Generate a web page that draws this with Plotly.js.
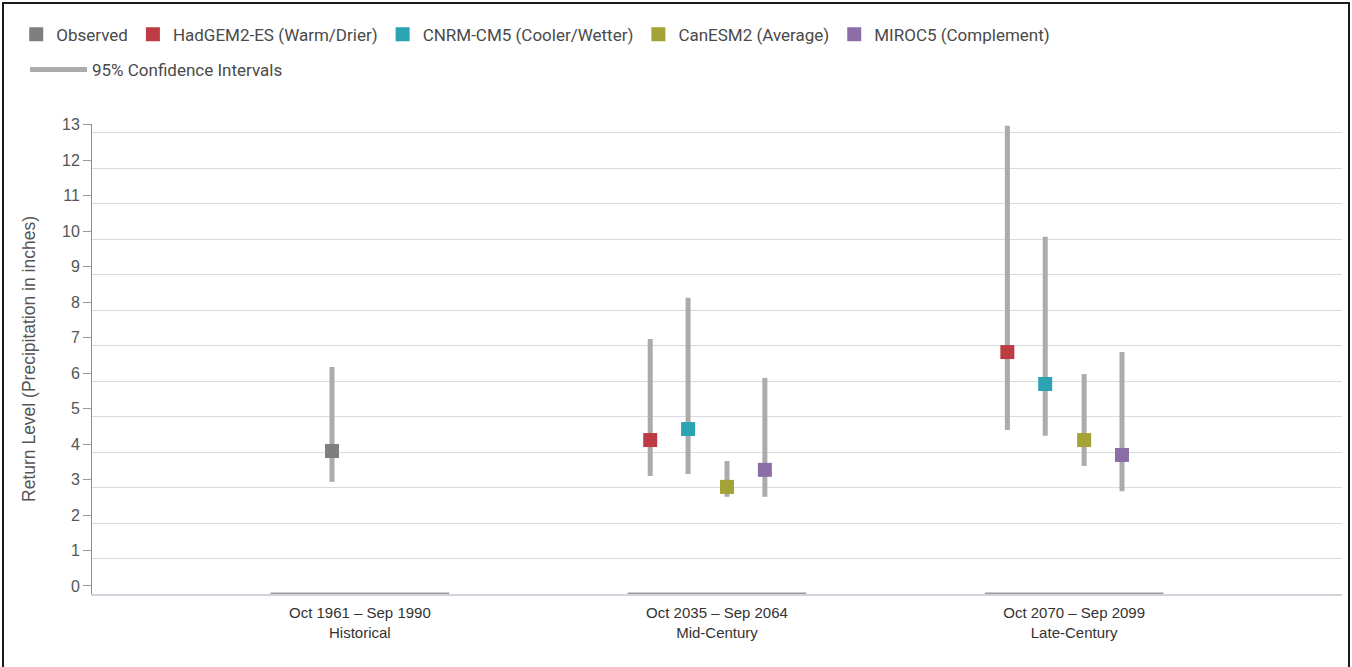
<!DOCTYPE html>
<html>
<head>
<meta charset="utf-8">
<script src="https://cdn.plot.ly/plotly-3.0.1.min.js"></script>
<style>
  html, body { margin: 0; padding: 0; background: #fff; }
  #chart { position: absolute; left: 0; top: 0; width: 1352px; height: 667px; }
  #frame { position: absolute; left: 2px; top: 2px; width: 1344px; height: 670px; border: 2px solid #1a1a1a; pointer-events: none; }
</style>
</head>
<body>
<div id="chart"></div>
<div id="frame"></div>
<script>
// ---- data ----
const periodRange = ['Oct 1961 – Sep 1990', 'Oct 2035 – Sep 2064', 'Oct 2070 – Sep 2099'];
const periodName = ['Historical', 'Mid-Century', 'Late-Century'];

const observedPeriods = [0];
const observedValue = [4.03];
const observedLow = [3.16];
const observedHigh = [6.40];

const modelPeriods = [1, 2];
const hadgemValue = [4.34, 6.82];
const hadgemLow = [3.33, 4.62];
const hadgemHigh = [7.19, 13.2];

const cnrmValue = [4.65, 5.92];
const cnrmLow = [3.38, 4.46];
const cnrmHigh = [8.35, 10.07];

const canesmValue = [3.02, 4.34];
const canesmLow = [2.74, 3.61];
const canesmHigh = [3.75, 6.20];

const mirocValue = [3.50, 3.92];
const mirocLow = [2.74, 2.90];
const mirocHigh = [6.09, 6.82];

const yTicks = [0,1,2,3,4,5,6,7,8,9,10,11,12,13];

// ---- styling ----
const series = [
  {name: 'Observed', periods: observedPeriods, v: observedValue, lo: observedLow, hi: observedHigh, color: '#7f7f7f', slot: -0.078},
  {name: 'HadGEM2-ES (Warm/Drier)', periods: modelPeriods, v: hadgemValue, lo: hadgemLow, hi: hadgemHigh, color: '#bd3b42', slot: -0.187},
  {name: 'CNRM-CM5 (Cooler/Wetter)', periods: modelPeriods, v: cnrmValue, lo: cnrmLow, hi: cnrmHigh, color: '#2aa3b2', slot: -0.081},
  {name: 'CanESM2 (Average)', periods: modelPeriods, v: canesmValue, lo: canesmLow, hi: canesmHigh, color: '#a3a337', slot: 0.028},
  {name: 'MIROC5 (Complement)', periods: modelPeriods, v: mirocValue, lo: mirocLow, hi: mirocHigh, color: '#8b6ea7', slot: 0.134}
];

// confidence interval segments
const ciX = [], ciY = [];
series.forEach(s => {
  s.periods.forEach((p, i) => {
    ciX.push(p + s.slot, p + s.slot, null);
    ciY.push(s.lo[i], s.hi[i], null);
  });
});

const traces = [{
  type: 'scatter', mode: 'lines', name: '95% Confidence Intervals',
  x: ciX, y: ciY, line: {color: '#ababab', width: 5},
  legend: 'legend2', hoverinfo: 'skip', connectgaps: false
}];
series.forEach(s => {
  traces.push({
    type: 'scatter', mode: 'markers', name: s.name,
    x: s.periods.map(p => p + s.slot), y: s.v,
    marker: {symbol: 'square', size: 14, color: s.color, line: {width: 0}},
    legend: 'legend'
  });
});

const shapes = periodRange.map((_, i) => ({
  type: 'line', xref: 'x', yref: 'y', x0: i - 0.25, x1: i + 0.25, y0: 0, y1: 0,
  line: {color: '#9a9a9a', width: 3}, layer: 'above'
}));

const layout = {
  width: 1352, height: 667,
  margin: {l: 92, r: 10, t: 124, b: 73},
  paper_bgcolor: '#ffffff', plot_bgcolor: '#ffffff',
  font: {family: 'Liberation Sans, Arial, sans-serif', color: '#555'},
  showlegend: true,
  legend: {
    orientation: 'h', xref: 'container', yref: 'container',
    x: 0.012, y: 0.975, xanchor: 'left', yanchor: 'top',
    font: {family: 'Roboto, sans-serif', size: 17, color: '#4a4a4a'},
    bgcolor: 'rgba(0,0,0,0)'
  },
  legend2: {
    orientation: 'h', xref: 'container', yref: 'container',
    x: 0.0185, y: 0.922, xanchor: 'left', yanchor: 'top',
    itemwidth: 57,
    font: {family: 'Roboto, sans-serif', size: 17, color: '#4a4a4a'},
    bgcolor: 'rgba(0,0,0,0)'
  },
  xaxis: {
    range: [-0.75, 2.75], fixedrange: true,
    tickmode: 'array', tickvals: periodRange.map((_, i) => i),
    ticktext: periodRange.map((r, i) => r + '<br>' + periodName[i]),
    tickfont: {family: 'Liberation Sans, Arial, sans-serif', size: 15, color: '#333'},
    showgrid: false, zeroline: false,
    showline: true, linecolor: '#cfd3da', linewidth: 2,
    ticks: '', ticklabelstandoff: 4
  },
  yaxis: {
    range: [0, 13.25], fixedrange: true,
    tickmode: 'array', tickvals: yTicks,
    showticklabels: false, ticks: '',
    showgrid: true, gridcolor: '#d9dbe0', gridwidth: 1,
    zeroline: false, showline: false
  },
  yaxis2: {
    overlaying: 'y', side: 'left', fixedrange: true,
    range: [-0.226, 13.024],
    tickmode: 'array', tickvals: yTicks, ticktext: yTicks.map(String),
    tickfont: {family: 'Liberation Sans, Arial, sans-serif', size: 16, color: '#555'},
    ticks: 'outside', ticklen: 8, tickcolor: '#9a9a9a', tickwidth: 1,
    showgrid: false, zeroline: false,
    showline: true, linecolor: '#8f8f8f', linewidth: 1,
    title: {text: 'Return Level (Precipitation in inches)', font: {family: 'Liberation Sans, Arial, sans-serif', size: 17.5, color: '#555'}, standoff: 21}
  },
  shapes: shapes
};

// a dummy trace to make yaxis2 show
traces.push({type: 'scatter', x: [null], y: [null], yaxis: 'y2', showlegend: false, hoverinfo: 'skip'});

Plotly.newPlot('chart', traces, layout, {displayModeBar: false, staticPlot: true});
</script>
</body>
</html>
